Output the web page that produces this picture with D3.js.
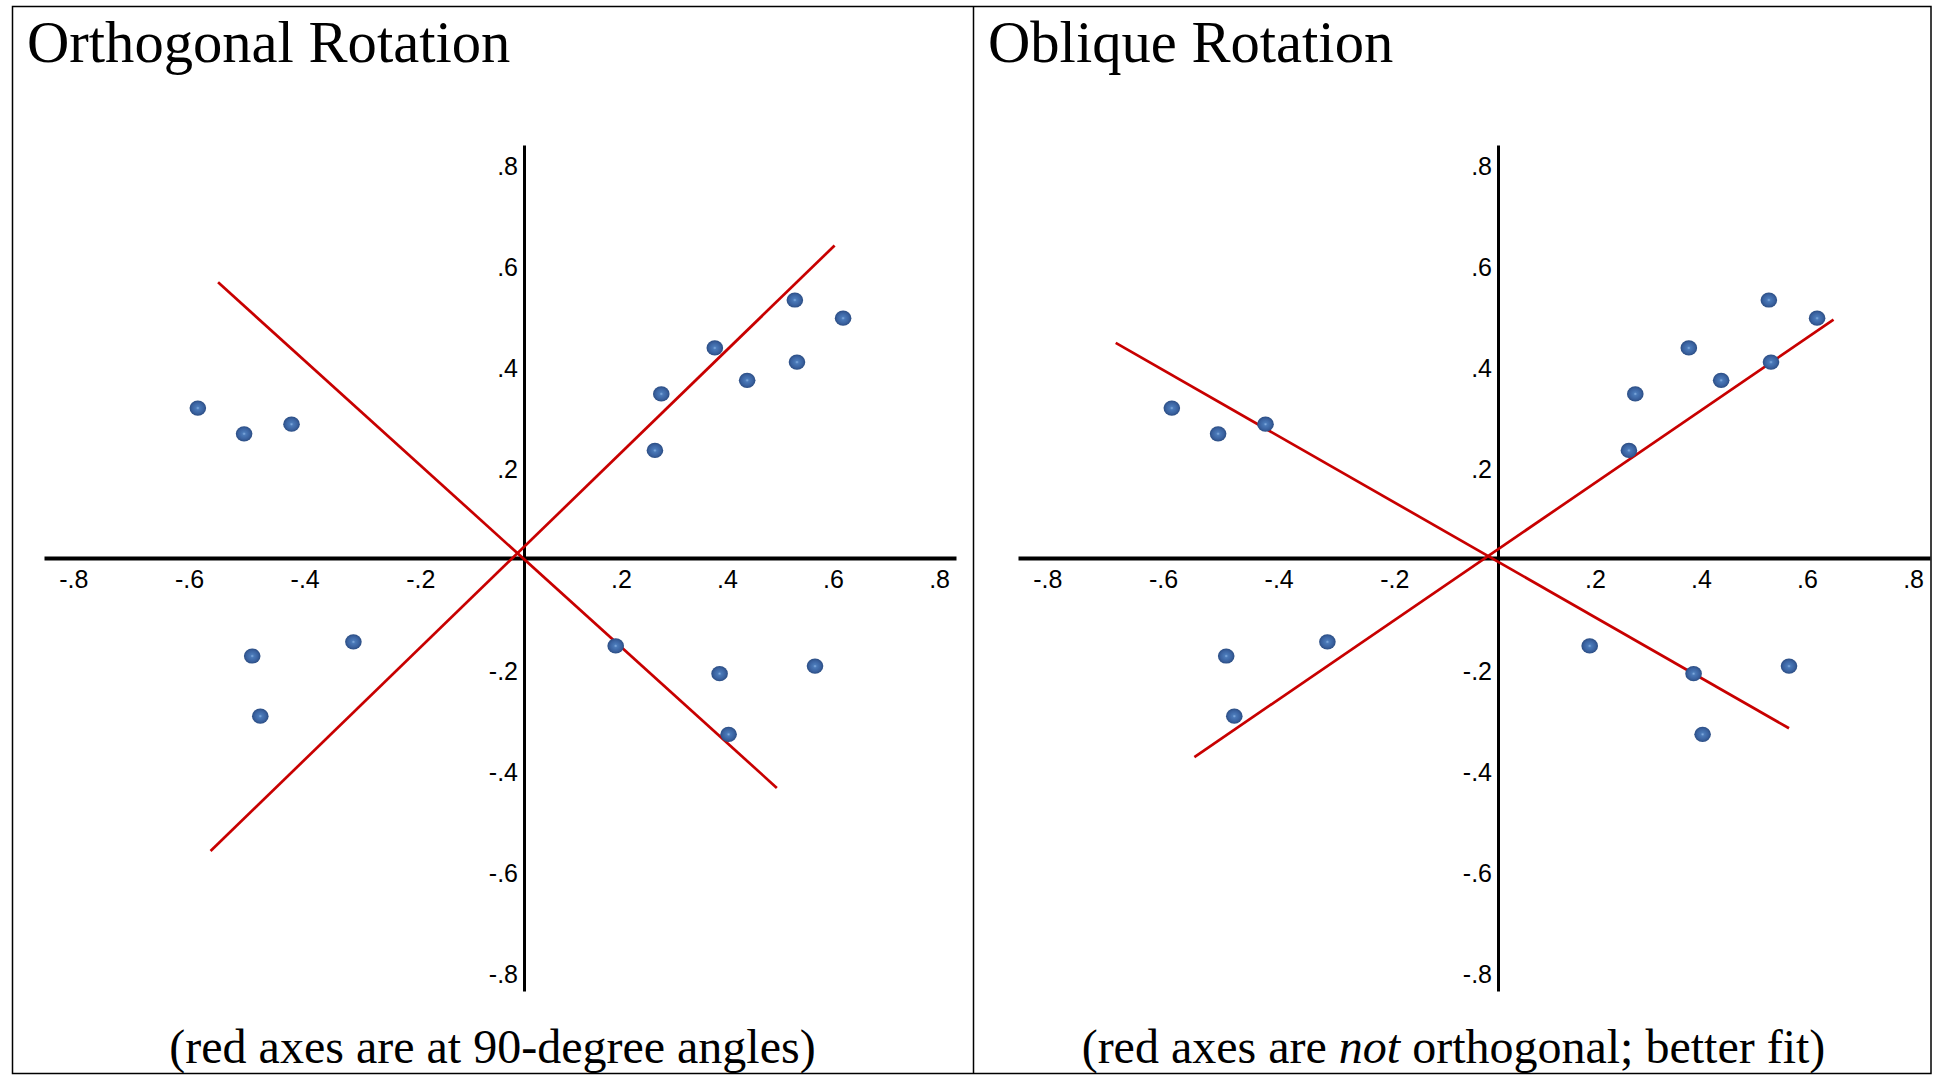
<!DOCTYPE html>
<meta charset="utf-8">
<script src="https://d3js.org/d3.v7.min.js"></script>
<style>
  body { margin: 0; background: #fff; }
</style>
<body>
<div id="my_dataviz"></div>

<script>
// factor loadings of the 17 variables (same points in both panels)
var loadX = [-0.564, -0.484, -0.402, 0.259, 0.247, 0.360, 0.421, 0.511, 0.515, 0.602,
             -0.470, -0.456, -0.295, 0.173, 0.369, 0.386, 0.549];
var loadY = [0.297, 0.246, 0.265, 0.325, 0.213, 0.416, 0.352, 0.511, 0.388, 0.475,
             -0.194, -0.313, -0.166, -0.174, -0.229, -0.349, -0.214];

// tick values and their labels
var tickValues = [-0.8, -0.6, -0.4, -0.2, 0.2, 0.4, 0.6, 0.8];
var tickLabels = ["-.8", "-.6", "-.4", "-.2", ".2", ".4", ".6", ".8"];

// how far the black axes run
var xExtent = [-0.83, 0.815];
var yExtent = [-0.857, 0.818];

// rotated (red) factor axes, [start, end] in loading units
var orthoAxis1 = [[-0.542, -0.580], [0.586, 0.619]];
var orthoAxis2 = [[-0.529, 0.546], [0.477, -0.455]];
var obliqueAxis1 = [[-0.525, -0.394], [0.633, 0.472]];
var obliqueAxis2 = [[-0.661, 0.426], [0.549, -0.337]];

var titles = ["Orthogonal Rotation", "Oblique Rotation"];

var width = 1937, height = 1076;
var serif = "'Liberation Serif', 'Times New Roman', Times, serif";
var sans = "'Liberation Sans', Arial, Helvetica, sans-serif";

var svg = d3.select("#my_dataviz")
  .append("svg")
    .attr("width", width)
    .attr("height", height);

// shaded dot
var grad = svg.append("defs").append("radialGradient")
    .attr("id", "dotGrad")
    .attr("cx", "50%").attr("cy", "50%").attr("r", "50%");
grad.append("stop").attr("offset", "0%").attr("stop-color", "#86b0e2");
grad.append("stop").attr("offset", "22%").attr("stop-color", "#4a79b8");
grad.append("stop").attr("offset", "70%").attr("stop-color", "#3a62a0");
grad.append("stop").attr("offset", "100%").attr("stop-color", "#2b4d83");

// frame and divider
svg.append("rect")
  .attr("x", 12.5).attr("y", 6.5)
  .attr("width", 1918.5).attr("height", 1067)
  .attr("fill", "none")
  .attr("stroke", "#000")
  .attr("stroke-width", 1.5);
svg.append("line")
  .attr("x1", 973.5).attr("x2", 973.5)
  .attr("y1", 6.5).attr("y2", 1073.5)
  .attr("stroke", "#000")
  .attr("stroke-width", 1.5);

var y0 = 558;
var y = d3.scaleLinear()
  .domain([yExtent[0], 0, yExtent[1]])
  .range([y0 + 433, y0, y0 - 413]);

var points = loadX.map(function (d, i) { return { x: d, y: loadY[i] }; });

var panels = [
  { left: 12.5, x0: 524, title: titles[0], lines: [orthoAxis1, orthoAxis2] },
  { left: 973.5, x0: 1498, title: titles[1], lines: [obliqueAxis1, obliqueAxis2] }
];

panels.forEach(function (p, k) {
  var x = d3.scaleLinear()
    .domain([xExtent[0], 0, xExtent[1]])
    .range([p.x0 - 480, p.x0, p.x0 + 432]);

  var g = svg.append("g");

  // title
  g.append("text")
    .attr("x", p.left + 14.5)
    .attr("y", 62)
    .style("font-family", serif)
    .style("font-size", "58.6px")
    .text(p.title);

  // X axis
  var gx = g.append("g")
    .attr("transform", "translate(0," + y0 + ")")
    .call(d3.axisBottom(x)
      .tickValues(tickValues)
      .tickSize(0)
      .tickSizeOuter(0)
      .tickPadding(12)
      .tickFormat(function (d, i) { return tickLabels[i]; }));
  gx.select(".domain").attr("stroke-width", 4);
  gx.selectAll("text")
    .attr("dx", function (d) { return d > 0 ? -9 : 12; })
    .style("font-family", sans)
    .style("font-size", "25px")
    .attr("fill", "#000");

  // Y axis
  var gy = g.append("g")
    .attr("transform", "translate(" + p.x0 + ",0)")
    .call(d3.axisLeft(y)
      .tickValues(tickValues)
      .tickSize(0)
      .tickSizeOuter(0)
      .tickPadding(6)
      .tickFormat(function (d, i) { return tickLabels[i]; }));
  gy.select(".domain").attr("stroke-width", 3);
  gy.selectAll("text")
    .attr("y", 12)
    .style("font-family", sans)
    .style("font-size", "25px")
    .attr("fill", "#000");

  // red rotated axes
  var line = d3.line()
    .x(function (d) { return x(d[0]); })
    .y(function (d) { return y(d[1]); });
  g.selectAll(".rot")
    .data(p.lines)
    .enter()
    .append("path")
      .attr("d", line)
      .attr("fill", "none")
      .attr("stroke", "#c80000")
      .attr("stroke-width", 2.7);

  // dots
  g.append("g")
    .selectAll("ellipse")
    .data(points)
    .enter()
    .append("ellipse")
      .attr("cx", function (d) { return x(d.x); })
      .attr("cy", function (d) { return y(d.y); })
      .attr("rx", 8.3)
      .attr("ry", 7.6)
      .style("fill", "url(#dotGrad)");

  // caption
  var cap = g.append("text")
    .attr("x", p.left + 480)
    .attr("y", 1063)
    .attr("text-anchor", "middle")
    .style("font-family", serif)
    .style("font-size", "48px");
  if (k === 0) {
    cap.text("(red axes are at 90-degree angles)");
  } else {
    cap.append("tspan").text("(red axes are ");
    cap.append("tspan").style("font-style", "italic").text("not");
    cap.append("tspan").text(" orthogonal; better fit)");
  }
});
</script>
</body>
